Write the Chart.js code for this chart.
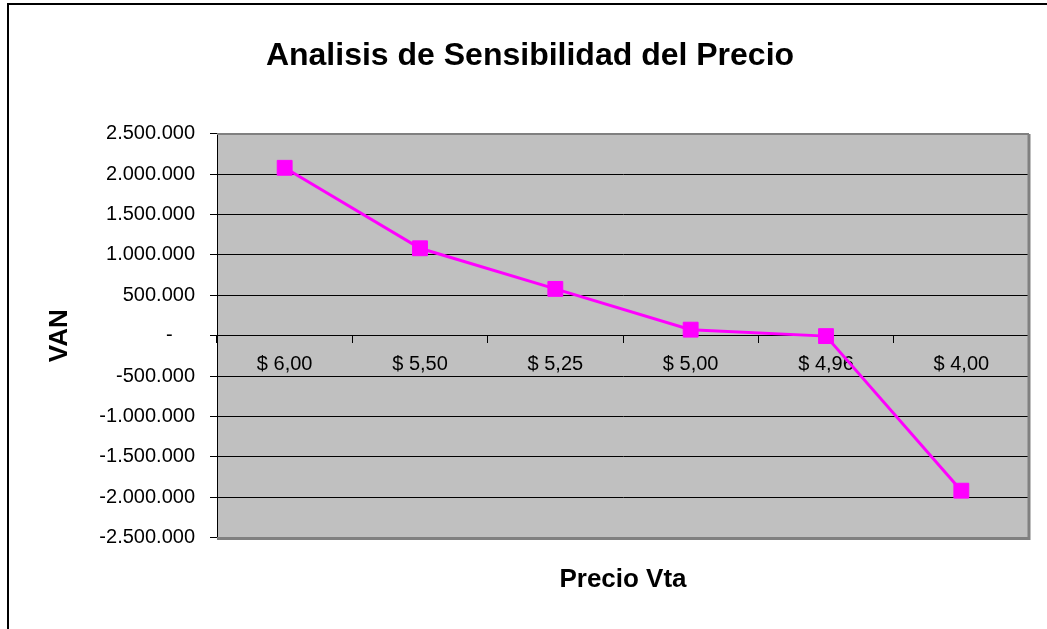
<!DOCTYPE html>
<html>
<head>
<meta charset="utf-8">
<title>Analisis de Sensibilidad del Precio</title>
<script src="https://cdn.jsdelivr.net/npm/chart.js@4.4.1/dist/chart.umd.min.js"></script>
<style>
    html, body { margin: 0; padding: 0; background: #fff; overflow: hidden; }
    #wrap { position: relative; width: 1047px; height: 629px; }
    #frame {
        position: absolute; left: 7px; top: 3px; right: 0; bottom: 0;
        border-left: 2px solid #000; border-top: 2px solid #000;
        pointer-events: none;
    }
    canvas { position: absolute; left: 0; top: 0; }
</style>
</head>
<body>
<div id="wrap">
    <canvas id="vanChart" width="1047" height="629"></canvas>
    <div id="frame"></div>
</div>
<script>
// Chart Data
const precios = ['$ 6,00', '$ 5,50', '$ 5,25', '$ 5,00', '$ 4,96', '$ 4,00'];
const van = [2080000, 1083000, 580000, 75000, -5000, -1920000];

// Y axis range
const yMin = -2500000;
const yMax = 2500000;
const yStep = 500000;

// 2.500.000 style, zero shown as a dash
function formatVan(v) {
    if (v === 0) return '-\u2007\u2007';
    const s = Math.abs(v).toFixed(0).replace(/\B(?=(\d{3})+(?!\d))/g, '.');
    return (v < 0 ? '-' : '') + s;
}

Chart.defaults.font.family = "'Liberation Sans', Arial, sans-serif";
Chart.defaults.color = '#000';

// gray plot area with a darker frame, like the spreadsheet chart
const plotArea = {
    id: 'plotArea',
    beforeDraw(chart) {
        const { ctx, chartArea: a } = chart;
        ctx.save();
        ctx.fillStyle = '#C0C0C0';
        ctx.fillRect(a.left, a.top, a.right - a.left, a.bottom - a.top);
        ctx.restore();
    },
    beforeDatasetsDraw(chart) {
        const { ctx, chartArea: a } = chart;
        ctx.save();
        ctx.strokeStyle = '#808080';
        ctx.lineWidth = 2;
        ctx.beginPath();
        ctx.moveTo(a.left, a.top);
        ctx.lineTo(a.right, a.top);
        ctx.stroke();
        ctx.lineWidth = 3;
        ctx.beginPath();
        ctx.moveTo(a.right, a.top);
        ctx.lineTo(a.right, a.bottom + 1);
        ctx.lineTo(a.left, a.bottom + 1);
        ctx.stroke();
        ctx.restore();
    }
};

new Chart(document.getElementById('vanChart'), {
    type: 'line',
    data: {
        labels: precios,
        datasets: [{
            label: 'VAN',
            data: van,
            borderColor: '#FF00FF',
            backgroundColor: '#FF00FF',
            borderWidth: 3,
            tension: 0,
            pointStyle: 'rect',
            pointRadius: 10.5,
            pointBorderWidth: 1,
            pointBackgroundColor: '#FF00FF',
            pointBorderColor: '#FF00FF',
            clip: false
        }]
    },
    options: {
        responsive: false,
        animation: false,
        events: [],
        layout: { padding: { left: 13, right: 0, top: 0, bottom: 0 } },
        plugins: {
            legend: { display: false },
            tooltip: { enabled: false },
            title: {
                display: true,
                text: 'Analisis de Sensibilidad del Precio',
                color: '#000',
                font: { size: 32, weight: 'bold' },
                padding: { top: 37, bottom: 58.5 }
            }
        },
        scales: {
            x: {
                type: 'category',
                position: 'bottom',
                offset: true,
                ticks: { display: false },
                grid: { display: false },
                border: { display: false },
                title: {
                    display: true,
                    text: 'Precio Vta',
                    color: '#000',
                    font: { size: 26, weight: 'bold' },
                    padding: { top: 0, bottom: 34 }
                },
                afterFit: s => { s.height = 91.5; }
            },
            // category labels sit on the zero line
            xl: {
                type: 'category',
                position: { y: 0 },
                offset: true,
                grid: {
                    offset: true,
                    drawOnChartArea: false,
                    drawTicks: true,
                    tickLength: 7,
                    tickColor: '#000'
                },
                border: { display: true, color: '#000', width: 1 },
                ticks: {
                    color: '#000',
                    font: { size: 20 },
                    padding: 10,
                    maxRotation: 0,
                    autoSkip: false
                }
            },
            y: {
                min: yMin,
                max: yMax,
                ticks: {
                    stepSize: yStep,
                    color: '#000',
                    font: { size: 20 },
                    padding: 15,
                    callback: v => formatVan(v)
                },
                grid: { color: '#000', lineWidth: 1, tickLength: 7, tickColor: '#000' },
                border: { color: '#000', width: 1 },
                title: {
                    display: true,
                    text: 'VAN',
                    color: '#000',
                    font: { size: 26, weight: 'bold' },
                    padding: { top: 31, bottom: 0 }
                },
                afterFit: s => { s.width = 204; }
            },
            yr: {
                type: 'linear',
                position: 'right',
                ticks: { display: false },
                grid: { display: false },
                border: { display: false },
                afterFit: s => { s.width = 18; }
            }
        }
    },
    plugins: [plotArea]
});
</script>
</body>
</html>
